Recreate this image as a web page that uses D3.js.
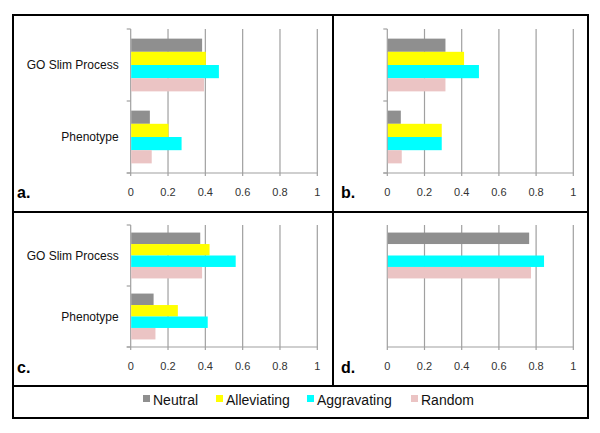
<!DOCTYPE html>
<html>
<head>
<meta charset="utf-8">
<script src="https://cdn.jsdelivr.net/npm/d3@7"></script>
<style>
  body { margin: 0; background: #fff; }
  svg text { font-family: "Liberation Sans", Arial, sans-serif; }
</style>
</head>
<body>
<div class="chart"></div>
<script>
var svgWidth = 600;
var svgHeight = 433;

// data
var categories = ["GO Slim Process", "Phenotype"];
var seriesNames = ["Neutral", "Alleviating", "Aggravating", "Random"];
var seriesColors = ["#8f8f8f", "#ffff00", "#00ffff", "#ebc4c4"];
var tickValues = [0, 0.2, 0.4, 0.6, 0.8, 1];

// values per category: [Neutral, Alleviating, Aggravating, Random]
var valuesA = [[0.38, 0.40, 0.47, 0.39], [0.10, 0.20, 0.27, 0.11]];
var valuesB = [[0.31, 0.41, 0.49, 0.31], [0.07, 0.29, 0.29, 0.075]];
var valuesC = [[0.37, 0.42, 0.56, 0.38], [0.12, 0.25, 0.41, 0.13]];
var valuesD = [[0.76, 0, 0.84, 0.77], [0, 0, 0, 0]];

var svg = d3.select(".chart")
  .append("svg")
  .attr("width", svgWidth)
  .attr("height", svgHeight);

// panel layouts
var panels = [
  {label: "a.", values: valuesA, left: 130.7, right: 317.3, top: 29, bottom: 173, labelX: 17, labelY: 198, showCats: true, pad: 0.73},
  {label: "b.", values: valuesB, left: 387.3, right: 573.3, top: 29, bottom: 173, labelX: 341, labelY: 198, showCats: false, pad: 0.73},
  {label: "c.", values: valuesC, left: 130.7, right: 317.3, top: 225, bottom: 347, labelX: 17, labelY: 373, showCats: true, pad: 0.66},
  {label: "d.", values: valuesD, left: 387.3, right: 573.3, top: 225, bottom: 347, labelX: 341, labelY: 373, showCats: false, pad: 0.66, noTicks: true}
];

var gridColor = "#a0a0a0";

panels.forEach(function(p) {
  var g = svg.append("g");

  var x = d3.scaleLinear().domain([0, 1]).range([p.left, p.right]);
  var y = d3.scaleBand().domain(categories).range([p.top, p.bottom]);
  var ySub = d3.scaleBand().domain(seriesNames)
    .range([0, y.bandwidth()])
    .paddingInner(0)
    .paddingOuter(p.pad);

  // vertical gridlines
  g.selectAll(".grid")
    .data(tickValues)
    .enter()
    .append("line")
    .attr("x1", d => x(d))
    .attr("x2", d => x(d))
    .attr("y1", p.top)
    .attr("y2", p.bottom + 3)
    .attr("stroke", gridColor)
    .attr("stroke-width", 1.2);

  // bottom axis line
  g.append("line")
    .attr("x1", p.noTicks ? p.left : p.left - 4)
    .attr("x2", p.right)
    .attr("y1", p.bottom)
    .attr("y2", p.bottom)
    .attr("stroke", gridColor)
    .attr("stroke-width", 1.2);

  // left category ticks
  if (!p.noTicks) {
    var edges = [p.top].concat(categories.map(c => y(c) + y.bandwidth()));
    g.selectAll(".ctick")
      .data(edges)
      .enter()
      .append("line")
      .attr("x1", p.left - 4)
      .attr("x2", p.left)
      .attr("y1", d => d)
      .attr("y2", d => d)
      .attr("stroke", gridColor)
      .attr("stroke-width", 1.2);
  }

  // bars
  categories.forEach(function(cat, ci) {
    g.selectAll(".bar" + ci)
      .data(p.values[ci])
      .enter()
      .append("rect")
      .attr("x", x(0) + 0.5)
      .attr("y", (d, i) => y(cat) + ySub(seriesNames[i]))
      .attr("width", d => Math.max(0, x(d) - x(0)))
      .attr("height", ySub.bandwidth())
      .attr("fill", (d, i) => seriesColors[i])
      .attr("opacity", d => d > 0 ? 1 : 0);
  });

  // x tick labels
  g.selectAll(".tlabel")
    .data(tickValues)
    .enter()
    .append("text")
    .attr("x", d => x(d))
    .attr("y", p.bottom + 23)
    .attr("text-anchor", "middle")
    .attr("font-size", "11px")
    .attr("fill", "#333")
    .text(d => String(d));

  // category labels
  if (p.showCats) {
    g.selectAll(".clabel")
      .data(categories)
      .enter()
      .append("text")
      .attr("x", p.left - 12)
      .attr("y", d => y(d) + y.bandwidth() / 2)
      .attr("dy", "0.35em")
      .attr("text-anchor", "end")
      .attr("font-size", "12px")
      .attr("fill", "#111")
      .text(d => d);
  }

  // panel letter
  g.append("text")
    .attr("x", p.labelX)
    .attr("y", p.labelY)
    .attr("font-size", "16px")
    .attr("font-weight", "bold")
    .attr("fill", "#000")
    .text(p.label);
});

// frame lines
var frame = svg.append("g")
  .attr("stroke", "#000")
  .attr("stroke-width", 2)
  .attr("fill", "none");

frame.append("rect").attr("x", 13).attr("y", 15).attr("width", 575).attr("height", 403);
frame.append("line").attr("x1", 13).attr("x2", 588).attr("y1", 212).attr("y2", 212);
frame.append("line").attr("x1", 13).attr("x2", 588).attr("y1", 386).attr("y2", 386);
frame.append("line").attr("x1", 333).attr("x2", 333).attr("y1", 15).attr("y2", 386);

// legend
var legendX = [143, 216, 307, 411];
var legend = svg.append("g");

legend.selectAll("rect")
  .data(seriesNames)
  .enter()
  .append("rect")
  .attr("x", (d, i) => legendX[i])
  .attr("y", 395)
  .attr("width", 7)
  .attr("height", 7)
  .attr("fill", (d, i) => seriesColors[i]);

legend.selectAll("text")
  .data(seriesNames)
  .enter()
  .append("text")
  .attr("x", (d, i) => legendX[i] + 10)
  .attr("y", 405)
  .attr("font-size", "14px")
  .attr("fill", "#111")
  .text(d => d);
</script>
</body>
</html>
